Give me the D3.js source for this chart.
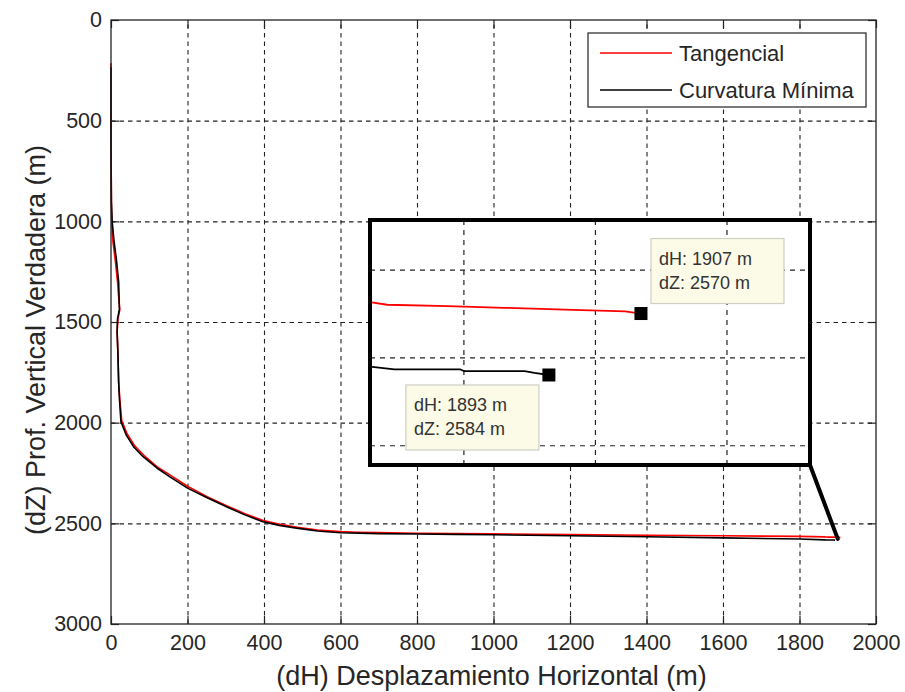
<!DOCTYPE html>
<html>
<head>
<meta charset="utf-8">
<script src="https://cdn.jsdelivr.net/npm/d3@7"></script>
<style>
  html, body { margin: 0; padding: 0; background: #fff; }
  svg { display: block; font-family: "Liberation Sans", Arial, sans-serif; }
</style>
</head>
<body>
<svg id="chart" width="905" height="692"></svg>
<script>
// Trayectoria del pozo: desplazamiento horizontal (dH) vs profundidad vertical (dZ)
const dhTangencial = [0, 0, 1, 2, 5, 11, 17, 21, 23, 18, 16, 18, 20, 23, 28, 42, 62, 86, 120, 156, 200, 250, 302, 350, 398, 442, 487, 540, 600, 643, 700, 800, 1000, 1200, 1400, 1600, 1800, 1865.8, 1868.4, 1877.6, 1886.3, 1895.4, 1904.6, 1907];
const dzTangencial = [215, 600, 900, 1000, 1100, 1190, 1300, 1400, 1440, 1485, 1550, 1650, 1800, 1880, 1990, 2055, 2115, 2162, 2218, 2262, 2316, 2366, 2412, 2452, 2486, 2505, 2520, 2533, 2541, 2544, 2546, 2549, 2552, 2556, 2559, 2562, 2565, 2567.4, 2568, 2568.3, 2568.7, 2569.1, 2569.5, 2570];

const dhCurvatura = [0, 0, 1, 3, 8, 14, 20, 22, 17, 16, 18, 20, 22, 26, 40, 60, 84, 120, 154, 200, 250, 302, 350, 397, 440, 485, 540, 600, 700, 800, 900, 1000, 1200, 1400, 1600, 1800, 1865.8, 1869.5, 1879.5, 1880.1, 1889.3, 1890.8, 1893];
const dzCurvatura = [235, 600, 900, 1000, 1100, 1188, 1300, 1436, 1485, 1550, 1650, 1800, 1880, 1995, 2062, 2122, 2169, 2225, 2269, 2325, 2372, 2418, 2458, 2492, 2510, 2524, 2538, 2547, 2551, 2553, 2555, 2557, 2562, 2567, 2572, 2578, 2582.1, 2582.7, 2582.7, 2583.1, 2583.1, 2583.5, 2584];

const seriesNames = ["Tangencial", "Curvatura Mínima"];
const seriesColors = ["#ff0000", "#000000"];

const xTicks = [0, 200, 400, 600, 800, 1000, 1200, 1400, 1600, 1800, 2000];
const yTicks = [0, 500, 1000, 1500, 2000, 2500, 3000];
const insetXTicks = [1880, 1900, 1920];
const insetYTicks = [2560, 2580, 2600];

const xLabel = "(dH) Desplazamiento Horizontal (m)";
const yLabel = "(dZ) Prof. Vertical Verdadera (m)";

const series = [
  { name: seriesNames[0], color: seriesColors[0], pts: dhTangencial.map((d, i) => [d, dzTangencial[i]]) },
  { name: seriesNames[1], color: seriesColors[1], pts: dhCurvatura.map((d, i) => [d, dzCurvatura[i]]) }
];

const svg = d3.select("#chart");
const L = 111, R = 876, T = 20, B = 624;

const x = d3.scaleLinear().domain([0, 2000]).range([L, R]);
const y = d3.scaleLinear().domain([0, 3000]).range([T, B]);

const textColor = "#262626";
const gridStyle = g => {
  g.select(".domain").remove();
  g.selectAll(".tick line").attr("stroke", "#222").attr("stroke-width", 1.1).attr("stroke-dasharray", "4.5,4");
};

// grid
svg.append("g").attr("transform", `translate(0,${B})`)
  .call(d3.axisBottom(x).tickValues(xTicks.slice(1, -1)).tickSize(-(B - T)).tickFormat(""))
  .call(gridStyle);
svg.append("g").attr("transform", `translate(${L},0)`)
  .call(d3.axisLeft(y).tickValues(yTicks.slice(1, -1)).tickSize(-(R - L)).tickFormat(""))
  .call(gridStyle);

// inner ticks on four sides
const tickStyle = g => {
  g.select(".domain").remove();
  g.selectAll(".tick line").attr("stroke", "#222").attr("stroke-width", 1.2);
};
svg.append("g").attr("transform", `translate(0,${B})`).call(d3.axisBottom(x).tickValues(xTicks).tickSize(-8).tickFormat("")).call(tickStyle);
svg.append("g").attr("transform", `translate(0,${T})`).call(d3.axisTop(x).tickValues(xTicks).tickSize(-8).tickFormat("")).call(tickStyle);
svg.append("g").attr("transform", `translate(${L},0)`).call(d3.axisLeft(y).tickValues(yTicks).tickSize(-8).tickFormat("")).call(tickStyle);
svg.append("g").attr("transform", `translate(${R},0)`).call(d3.axisRight(y).tickValues(yTicks).tickSize(-8).tickFormat("")).call(tickStyle);

// tick labels
const labelStyle = g => {
  g.select(".domain").remove();
  g.selectAll(".tick line").remove();
  g.selectAll(".tick text").attr("fill", textColor).attr("font-size", 21.5)
    .attr("font-family", "'Liberation Sans', Arial, sans-serif");
};
svg.append("g").attr("transform", `translate(0,${B})`)
  .call(d3.axisBottom(x).tickValues(xTicks).tickSize(0).tickPadding(11).tickFormat(d3.format("d")))
  .call(labelStyle);
svg.append("g").attr("transform", `translate(${L},0)`)
  .call(d3.axisLeft(y).tickValues(yTicks).tickSize(0).tickPadding(9).tickFormat(d3.format("d")))
  .call(labelStyle);

// series
const line = d3.line().x(d => x(d[0])).y(d => y(d[1]));
series.forEach(s => {
  svg.append("path").datum(s.pts).attr("d", line)
    .attr("fill", "none").attr("stroke", s.color).attr("stroke-width", 1.6)
    .attr("stroke-linejoin", "round");
});

// axes frame
svg.append("rect").attr("x", L).attr("y", T).attr("width", R - L).attr("height", B - T)
  .attr("fill", "none").attr("stroke", "#222").attr("stroke-width", 1.3);

// axis titles
svg.append("text").attr("x", (L + R) / 2 - 2).attr("y", 685).attr("text-anchor", "middle")
  .attr("font-size", 27).attr("fill", textColor).text(xLabel);
svg.append("text").attr("transform", `translate(45,${(T + B) / 2 + 18}) rotate(-90)`).attr("text-anchor", "middle")
  .attr("font-size", 27).attr("fill", textColor).text(yLabel);

// legend
const lg = svg.append("g");
lg.append("rect").attr("x", 588).attr("y", 33).attr("width", 278).attr("height", 74)
  .attr("fill", "#fff").attr("stroke", "#222").attr("stroke-width", 1.2);
series.forEach((s, i) => {
  const ly = 53 + i * 37;
  lg.append("line").attr("x1", 600).attr("x2", 672).attr("y1", ly).attr("y2", ly)
    .attr("stroke", s.color).attr("stroke-width", 1.6);
  lg.append("text").attr("x", 679).attr("y", ly + 8).attr("font-size", 22)
    .attr("fill", textColor).text(s.name);
});

// zoomed inset around the end of both trajectories
const IL = 370, IR = 810, IT = 220, IB = 465;
const xi = d3.scaleLinear().domain([1865.8, 1932.7]).range([IL, IR]);
const yi = d3.scaleLinear().domain([2548.7, 2604.5]).range([IT, IB]);

const ends = series.map(s => s.pts[s.pts.length - 1]);
const focusDh = d3.mean(ends, d => d[0]);
const focusDz = d3.mean(ends, d => d[1]);

// connector from inset to the zoomed spot
svg.append("line").attr("x1", IR).attr("y1", IB).attr("x2", x(focusDh)).attr("y2", y(focusDz))
  .attr("stroke", "#000").attr("stroke-width", 4).attr("stroke-linecap", "round");

svg.append("clipPath").attr("id", "insetClip")
  .append("rect").attr("x", IL).attr("y", IT).attr("width", IR - IL).attr("height", IB - IT);

const inset = svg.append("g");
inset.append("rect").attr("x", IL).attr("y", IT).attr("width", IR - IL).attr("height", IB - IT).attr("fill", "#fff");
const ig = inset.append("g").attr("clip-path", "url(#insetClip)");

const insetGridStyle = g => {
  g.select(".domain").remove();
  g.selectAll(".tick line").attr("stroke", "#222").attr("stroke-width", 1.2).attr("stroke-dasharray", "5,5");
};
ig.append("g").attr("transform", `translate(0,${IB})`)
  .call(d3.axisBottom(xi).tickValues(insetXTicks).tickSize(-(IB - IT)).tickFormat(""))
  .call(insetGridStyle);
ig.append("g").attr("transform", `translate(${IL},0)`)
  .call(d3.axisLeft(yi).tickValues(insetYTicks).tickSize(-(IR - IL)).tickFormat(""))
  .call(insetGridStyle);

const lineI = d3.line().x(d => xi(d[0])).y(d => yi(d[1]));
series.forEach(s => {
  ig.append("path").datum(s.pts).attr("d", lineI)
    .attr("fill", "none").attr("stroke", s.color).attr("stroke-width", 1.8);
});

// data tips
const tipOffsets = [{ dx: 10, dy: -75 }, { dx: -143, dy: 10 }];
ends.forEach((p, i) => {
  const mx = xi(p[0]), my = yi(p[1]);
  ig.append("rect").attr("x", mx - 6.5).attr("y", my - 6.5).attr("width", 13).attr("height", 13).attr("fill", "#000");
  const bx = mx + tipOffsets[i].dx, by = my + tipOffsets[i].dy;
  ig.append("rect").attr("x", bx).attr("y", by).attr("width", 133).attr("height", 65)
    .attr("fill", "#fbfbe8").attr("stroke", "#cfcfc4").attr("stroke-width", 1.2);
  ig.append("text").attr("x", bx + 8).attr("y", by + 26).attr("font-size", 18).attr("fill", "#333")
    .text(`dH: ${Math.round(p[0])} m`);
  ig.append("text").attr("x", bx + 8).attr("y", by + 50).attr("font-size", 18).attr("fill", "#333")
    .text(`dZ: ${Math.round(p[1])} m`);
});

inset.append("rect").attr("x", IL).attr("y", IT).attr("width", IR - IL).attr("height", IB - IT)
  .attr("fill", "none").attr("stroke", "#000").attr("stroke-width", 4);
</script>
</body>
</html>
